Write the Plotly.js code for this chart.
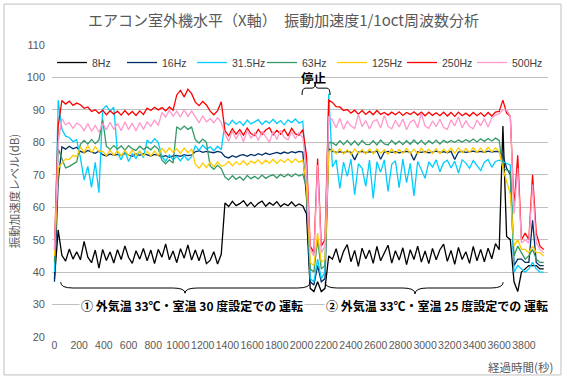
<!DOCTYPE html>
<html>
<head>
<meta charset="utf-8">
<script src="https://cdn.plot.ly/plotly-3.0.1.min.js"></script>
<style>html,body{margin:0;padding:0;background:#fff;}#chart{width:567px;height:380px;}</style>
</head>
<body>
<div id="chart"></div>
<script>
// Sampling: first sample at 0 s, one sample every 30 s (Plotly builds the x values from x0/dx)
const startTime = 0;
const sampleStep = 30;

const seriesNames = ['8Hz', '16Hz', '31.5Hz', '63Hz', '125Hz', '250Hz', '500Hz'];

const hz8 = [38, 53,
  45.2, 43.4, 47.1, 44.0, 46.3,
  43.8, 49.5, 44.6, 42.9, 46.8, 41.2,
  47.0, 43.6, 46.2, 42.8,
  46.9, 43.9, 48.1, 44.5, 42.7, 46.6, 44.0, 47.3,
  43.5, 46.8, 42.6, 47.0,
  44.6, 48.7, 43.8, 46.5,
  42.9, 47.2, 44.3, 48.4, 43.7,
  46.8, 43.5, 47.0, 42.6,
  43.6, 46.3, 42.5, 45.5,
  61.3, 60.2, 61.8, 60.5, 61.1, 62.0, 60.4, 61.5, 60.1, 61.2, 61.9, 60.3, 61.4, 60.6, 61.7, 60.2, 61.1, 60.5, 61.6, 60.3, 61.0, 60.4,
  58, 35, 34, 37, 34, 35, 45,
  44.0, 47.2, 42.9, 46.4, 48.5, 43.2, 46.7, 41.8, 47.4, 44.1,
  46.8, 42.7, 47.9, 43.5, 46.1, 48.3, 42.8, 46.6, 43.7, 47.5,
  42.3, 46.9, 43.9, 48.0, 43.1, 46.5, 42.6, 47.3, 43.8, 46.9,
  48.6, 43.3, 46.7, 42.4, 47.6, 43.9, 46.3, 42.7, 47.9, 43.5,
  47.0, 43.2, 47.4, 44.1, 48.8, 46.9,
  85, 51, 50, 37, 34, 40, 41, 42, 42, 42, 41, 41];

const hz16 = [37, 68,
  78.6, 77.9, 78.8, 78.0, 78.5,
  77.2, 76.8, 77.5, 77.0, 76.6, 77.3,
  76.2, 75.8, 76.4, 76.0,
  76.3, 75.9, 76.6, 76.1, 75.7, 76.4, 76.0, 76.5,
  76.1, 75.8, 76.3, 76.0,
  75.6, 75.9, 75.4, 75.8,
  76.0, 75.7, 76.2, 75.9, 76.1,
  77.1, 77.4, 76.9, 77.2,
  77.0, 76.8, 77.2, 76.9,
  75.6, 75.2, 75.9, 75.4, 76.0, 76.2, 75.7, 76.3, 75.9, 76.5, 76.1, 76.7, 76.2, 76.6, 76.9, 76.5, 77.0, 76.6, 77.1, 76.8, 77.2, 77.0,
  63, 37, 36, 42, 37, 38, 78,
  77.3, 76.9, 77.1, 76.8, 77.2, 76.9, 74.6, 77.0, 77.2, 76.8,
  77.1, 76.9, 77.3, 74.8, 77.0, 77.2, 76.9, 77.1, 76.8, 77.0,
  77.2, 76.9, 74.5, 77.1, 76.9, 77.2, 76.8, 77.0, 77.3, 76.9,
  77.1, 76.8, 77.2, 74.7, 77.0, 77.2, 76.9, 77.1, 77.3, 77.0,
  77.2, 76.9, 77.3, 77.0, 77.2, 77.1,
  76, 72, 70, 42, 44, 44, 43, 43, 56, 43, 42, 42];

const hz31_5 = [40, 93,
  84.0, 81.9, 81.5, 80.2, 80.8,
  75.2, 68.4, 72.6, 66.1, 73.8, 64.5,
  90.2, 91.3, 89.6, 90.8,
  76.8, 74.6, 77.3, 74.1, 76.5, 75.0, 77.4, 75.3,
  80.6, 79.7, 81.1, 80.0,
  75.6, 74.2, 76.1, 74.6,
  75.7, 74.3, 76.0, 74.5, 75.6,
  78.9, 77.6, 79.1, 77.9,
  78.6, 77.4, 78.8, 77.7,
  86.2, 85.3, 86.8, 85.6, 86.4, 85.2, 86.9, 85.7, 86.3, 87.0, 85.5, 86.6, 85.9, 87.1, 85.8, 86.7, 85.4, 86.9, 86.1, 87.2, 85.9, 86.5,
  70, 38, 37, 44, 38, 40, 95,
  72.4, 74.6, 65.8, 73.9, 69.5, 74.8, 63.9, 73.4, 72.0, 66.4,
  74.5, 62.7, 74.0, 70.8, 74.6, 64.9, 73.2, 74.3, 66.0, 74.8,
  67.6, 73.5, 63.5, 74.1, 71.6, 68.9,
  74.0, 72.4, 74.6, 70.9, 73.7, 74.5, 72.1, 74.2, 70.5, 74.6,
  73.6, 72.0, 74.4, 72.8, 71.3, 73.9, 74.7, 72.3, 74.1, 74.5,
  74, 73.5, 73, 40, 42, 41, 40, 41, 43, 41, 40, 40];

const hz63 = [43, 78,
  75.0, 72.1, 72.6, 73.2, 74.0,
  79.4, 80.6, 79.5, 80.9, 79.6, 80.7,
  87.0, 78.8, 77.8, 79.0,
  77.9, 78.9, 77.6, 79.0, 78.0, 77.5, 78.8, 77.8,
  78.6, 77.7, 78.9, 78.0,
  74.5, 73.4, 74.6, 73.6,
  84.8, 83.9, 85.0, 84.0, 84.7,
  80.8, 79.8, 81.0, 80.0,
  72.7, 71.7, 72.9, 71.9,
  69.3, 68.4, 69.7, 68.6, 69.4, 68.3, 69.8, 68.8, 69.5, 68.7, 69.9, 68.9, 69.6, 70.0, 69.0, 70.1, 69.3, 70.2, 69.4, 70.3, 69.6, 70.2,
  66, 41, 40, 50, 41, 42, 80,
  79.9, 79.1, 80.5, 79.3, 80.6, 79.2, 80.4, 79.1, 80.6, 79.4,
  79.3, 80.5, 79.2, 80.7, 79.5, 79.2, 80.6, 79.4, 80.4, 79.3,
  80.5, 79.4, 80.7, 79.5, 80.6, 79.3, 80.5, 79.6, 80.7, 79.5,
  80.6, 79.9, 80.6, 80.0, 80.7, 80.1, 80.8, 80.2, 81.0, 80.1,
  81.1, 80.3, 81.2, 80.4, 81.3, 80.6,
  72, 71.5, 71, 45, 48, 46, 44, 45, 47, 44, 43, 43];

const hz125 = [45, 72,
  73.6, 74.9, 74.7, 76.0, 75.6,
  78.6, 76.9, 79.0, 76.8, 78.7, 77.2,
  77.3, 75.9, 77.6, 76.0,
  77.4, 75.8, 77.5, 75.9, 77.6, 76.0, 77.3, 75.8,
  77.2, 75.8, 77.3, 75.9,
  78.1, 76.8, 78.3, 76.9,
  78.0, 76.6, 78.2, 76.8, 77.9,
  73.3, 72.0, 73.6, 72.2,
  73.9, 72.4, 74.0, 72.6,
  73.0, 74.1, 72.8, 74.0, 73.1, 74.3, 73.0, 74.2, 73.6, 74.6, 73.3, 74.5, 73.6, 74.8, 73.5, 74.7, 73.8, 74.9, 73.7, 74.9, 73.8, 74.6,
  67, 43, 42, 52, 43, 44, 77,
  77.8, 76.5, 78.0, 76.4, 77.7, 76.3, 77.9, 76.6, 77.8, 76.4,
  77.9, 76.5, 78.0, 76.6, 77.7, 76.3, 78.0, 76.5, 77.8, 76.6,
  78.1, 76.6, 77.9, 76.4, 78.2, 76.7, 77.9, 76.6, 78.1, 76.5,
  77.9, 76.8, 78.2, 76.7, 78.3, 76.8, 78.1, 76.9, 78.4, 76.9,
  78.2, 76.9, 78.5, 77.0, 78.3, 77.2,
  72, 68, 64, 48, 50, 47, 47, 46, 48, 46, 46, 45];

const hz250 = [47, 85,
  92.9, 91.8, 92.7, 91.4, 92.1,
  91.6, 90.5, 90.9, 89.5, 90.0, 88.9,
  89.9, 88.5, 89.7, 88.7,
  89.6, 88.4, 89.8, 88.5, 89.5, 88.3, 89.7, 88.6,
  90.5, 89.8, 90.8, 90.0,
  90.7, 89.7, 90.9, 89.9,
  94.6, 96.0, 94.0, 96.4, 95.0,
  92.4, 91.3, 92.6, 91.5,
  89.6, 88.5, 89.7, 92.5,
  83.6, 82.0, 84.2, 82.5, 83.9, 82.2, 84.4, 82.7, 82.1, 84.0, 82.4, 83.8, 84.5, 82.3, 83.7, 82.5, 84.0, 82.0, 84.3, 82.6, 82.2, 83.9,
  76, 48, 46, 75, 48, 50, 93,
  92.3, 91.0, 90.9, 89.8, 90.1, 89.0, 89.9, 88.7, 89.8, 88.6,
  89.6, 88.5, 89.8, 88.6, 89.2, 88.4, 89.3, 88.5, 89.4, 88.3,
  89.2, 88.6, 89.4, 88.4, 89.3, 88.2, 89.3, 88.3, 89.1, 88.2,
  89.3, 88.1, 89.2, 88.0, 89.3, 88.2, 89.0, 88.1, 89.2, 88.2,
  89.1, 88.0, 89.2, 88.1, 89.3, 89.5,
  93, 89, 88, 60, 76, 50, 52, 50, 70, 52, 48, 47];

const hz500 = [47, 80,
  87.3, 85.4, 86.1, 84.3, 85.9,
  85.3, 83.6, 85.8, 83.4, 85.2, 83.2,
  85.9, 83.8, 86.2, 84.0,
  85.8, 83.6, 86.3, 83.9, 85.9, 83.5, 86.1, 84.0,
  86.3, 85.0, 86.8, 85.2,
  89.2, 87.8, 89.9, 88.1,
  89.6, 87.8, 90.1, 88.0, 89.7,
  87.9, 86.0, 88.2, 86.3,
  87.3, 86.0, 87.6, 86.2,
  82.6, 80.3, 83.5, 81.0, 83.1, 80.2, 83.8, 81.3, 82.9, 80.6, 83.4, 81.6, 80.1, 83.3, 80.9, 83.7, 81.5, 80.8, 83.2, 81.1, 83.0, 81.4,
  72, 47, 45, 73, 46, 48, 88,
  86.9, 84.5, 87.4, 84.0, 86.5, 85.0, 84.3, 88.6, 84.8, 86.7,
  84.1, 86.5, 87.0, 84.4, 88.3, 84.9, 84.2, 86.8, 84.7, 87.2,
  83.9, 86.3, 86.9, 84.5, 89.0, 85.0, 84.3, 86.6, 84.8, 87.1,
  84.6, 84.0, 86.9, 85.1, 87.9, 84.4, 86.7, 84.9, 84.2, 86.9,
  85.1, 87.3, 84.7, 87.6, 88.4, 88.8,
  90, 90, 88, 58, 72, 49, 50, 49, 67, 49, 47, 46];

const yTicks = [20, 30, 40, 50, 60, 70, 80, 90, 100, 110];
const xTicks = [0, 200, 400, 600, 800, 1000, 1200, 1400, 1600, 1800, 2000, 2200, 2400, 2600, 2800, 3000, 3200, 3400, 3600, 3800];

const allSeries = [hz8, hz16, hz31_5, hz63, hz125, hz250, hz500];
const colors = ['#000000', '#002E66', '#00CCFF', '#339966', '#FFCC00', '#FF0000', '#FF99CC'];

const traces = allSeries.map((vals, k) => ({
  type: 'scatter', mode: 'lines', name: seriesNames[k],
  x0: startTime, dx: sampleStep, y: vals,
  line: {color: colors[k], width: 1.3},
  hoverinfo: 'skip'
}));

const jp = '"Noto Sans CJK JP", "Noto Sans", sans-serif';
const num = '"Liberation Sans", Arial, sans-serif';

const layout = {
  width: 567, height: 380,
  margin: {l: 52, r: 19, t: 45, b: 43},
  paper_bgcolor: '#ffffff', plot_bgcolor: '#ffffff',
  showlegend: true,
  title: {text: 'エアコン室外機水平（X軸）　振動加速度1/1oct周波数分析', font: {family: jp, size: 15, color: '#595959'}, x: 0.5, xanchor: 'center', y: 0.945, yanchor: 'middle'},
  legend: {orientation: 'h', x: 0.0, xanchor: 'left', y: 0.94, yanchor: 'middle', bgcolor: 'rgba(255,255,255,0)',
    font: {family: num, size: 10.5, color: '#404040'}, itemwidth: 30, entrywidth: 25, entrywidthmode: 'pixels', tracegroupgap: 0},
  xaxis: {range: [-20, 3995], tickmode: 'array', tickvals: xTicks, ticktext: xTicks.map(String),
    showgrid: false, zeroline: false, showline: false, ticks: '',
    tickfont: {family: num, size: 10.5, color: '#595959'}, tickangle: 0, fixedrange: true},
  yaxis: {range: [20, 110], tickmode: 'array', tickvals: yTicks, showgrid: true, gridcolor: '#BFBFBF', gridwidth: 1,
    zeroline: false, showline: false, ticks: '', ticklabelstandoff: 6,
    tickfont: {family: num, size: 11, color: '#595959'},
    title: {text: '振動加速度レベル(dB)', font: {family: jp, size: 11.5, color: '#595959'}, standoff: 4}, fixedrange: true},
  shapes: [
    {type: 'rect', xref: 'paper', yref: 'paper', x0: -0.0968, x1: 1.0262, y0: -0.130, y1: 1.140, line: {color: '#BFBFBF', width: 1}, layer: 'below'},
    {type: 'path', xref: 'x', yref: 'y', path: 'M2004,94.6 Q2004,96.7 2030,96.7 L2085,96.7 Q2110,96.7 2110,98.4 Q2110,96.7 2135,96.7 L2205,96.7 Q2231,96.7 2231,94.6', line: {color: '#000000', width: 1}},
    {type: 'path', xref: 'x', yref: 'y', path: 'M50,36.9 Q50,35.1 150,35.1 L957,35.1 Q1057,35.1 1057,33.5 Q1057,35.1 1157,35.1 L1969,35.1 Q2069,35.1 2069,36.9', line: {color: '#000000', width: 1}},
    {type: 'path', xref: 'x', yref: 'y', path: 'M2190,36.9 Q2190,35.1 2290,35.1 L2819,35.1 Q2919,35.1 2919,33.3 Q2919,35.1 3019,35.1 L3532,35.1 Q3632,35.1 3632,36.9', line: {color: '#000000', width: 1}}
  ],
  annotations: [
    {text: '<b>停止</b>', xref: 'x', yref: 'y', x: 2093, y: 100.1, showarrow: false, font: {family: jp, size: 12.5, color: '#000000'}},
    {text: '<b>① 外気温 33℃・室温 30 度設定での 運転</b>', xref: 'x', yref: 'y', x: 1114, y: 29.6, showarrow: false, font: {family: jp, size: 12, color: '#000000'}, bgcolor: '#ffffff', borderpad: 1},
    {text: '<b>② 外気温 33℃・室温 25 度設定での 運転</b>', xref: 'x', yref: 'y', x: 3097, y: 29.6, showarrow: false, font: {family: jp, size: 12, color: '#000000'}, bgcolor: '#ffffff', borderpad: 1},
    {text: '経過時間(秒)', xref: 'paper', yref: 'paper', x: 1.014, xanchor: 'right', y: -0.103, yanchor: 'middle', showarrow: false, font: {family: jp, size: 11.5, color: '#595959'}}
  ]
};

Plotly.newPlot('chart', traces, layout, {displayModeBar: false, staticPlot: true});
</script>
</body>
</html>
